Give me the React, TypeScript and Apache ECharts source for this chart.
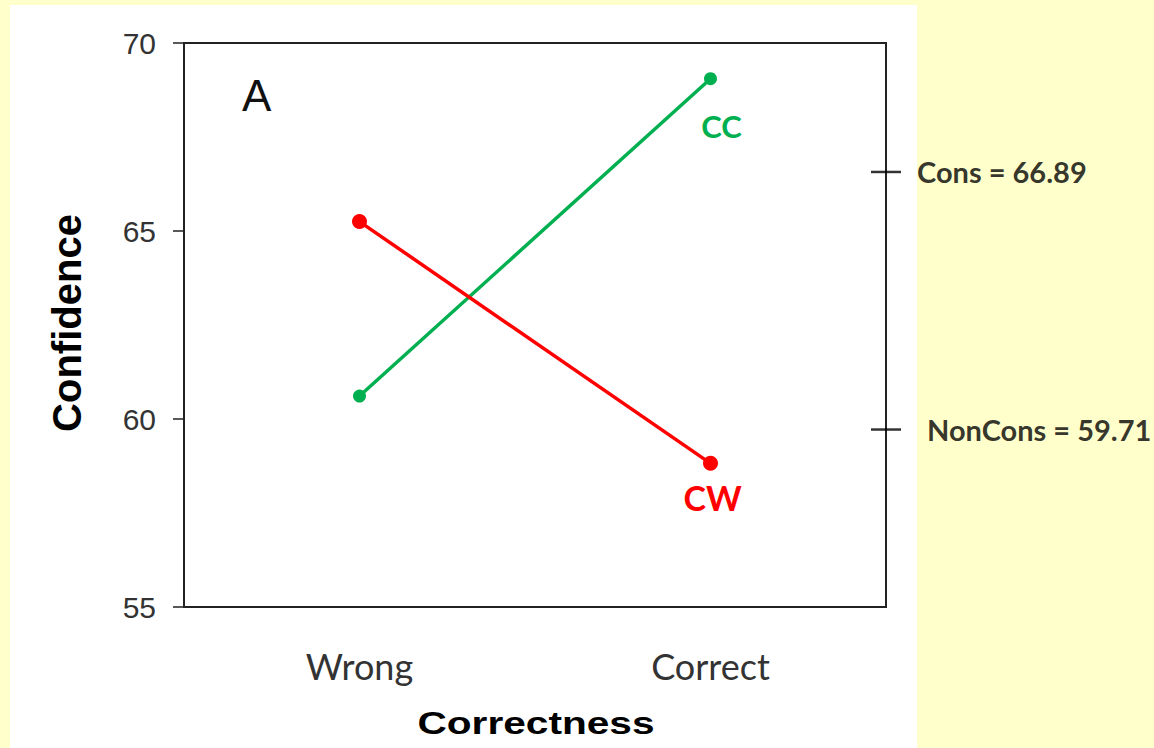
import React, { useEffect, useRef } from "react";
import * as echarts from "echarts";

const categories = ["Wrong", "Correct"];
const ccValues = [60.61, 69.05];
const cwValues = [65.25, 58.82];
const yTicks = { min: 55, max: 70, interval: 5 };
// annotation marks: [drawn position, label]
const annotationPositions = [66.57, 59.72];
const annotationLabels = ["Cons = 66.89", "NonCons = 59.71"];

const GREEN = "#00B050";
const RED = "#FF0000";

export default function App() {
  const ref = useRef<HTMLDivElement>(null);
  useEffect(() => {
    if (!ref.current) return;
    const chart = echarts.init(ref.current, null, { renderer: "svg" });
    const option: any = {
      animation: false,
      backgroundColor: "#FFFFCC",
      grid: {
        left: 184,
        right: 268,
        top: 43,
        bottom: 141,
        show: true,
        borderColor: "#222",
        borderWidth: 2,
        backgroundColor: "transparent",
      },
      graphic: [
        {
          type: "rect",
          z: -10,
          silent: true,
          shape: { x: 10, y: 5, width: 907, height: 760 },
          style: { fill: "#FFFFFF" },
        },
        {
          type: "text",
          x: 242,
          y: 73,
          style: {
            text: "A",
            fontFamily: "Liberation Sans, Arial, sans-serif",
            fontSize: 44,
            fill: "#111",
            textAlign: "left",
            textVerticalAlign: "top",
          },
        },
        {
          type: "text",
          x: 67,
          y: 323,
          rotation: Math.PI / 2,
          style: {
            text: "Confidence",
            fontFamily: "Liberation Sans, Arial, sans-serif",
            fontWeight: "bold",
            fontSize: 40,
            fill: "#000",
            textAlign: "center",
            textVerticalAlign: "middle",
          },
        },
        {
          type: "text",
          x: 536,
          y: 723,
          scaleX: 1.27,
          style: {
            text: "Correctness",
            fontFamily: "Liberation Sans, Arial, sans-serif",
            fontWeight: "bold",
            fontSize: 32,
            fill: "#000",
            textAlign: "center",
            textVerticalAlign: "middle",
          },
        },
      ],
      xAxis: [
        {
          type: "category",
          data: categories,
          boundaryGap: true,
          axisLine: { lineStyle: { color: "#222", width: 2 } },
          axisTick: { alignWithLabel: true, inside: true, length: 12, lineStyle: { color: "#222", width: 1.5 } },
          axisLabel: {
            margin: 41,
            fontFamily: "Lato, Carlito, sans-serif",
            fontSize: 36,
            color: "#333",
          },
          splitLine: { show: false },
        },
        {
          type: "value",
          min: 0,
          max: 1,
          show: false,
        },
      ],
      yAxis: {
        type: "value",
        min: yTicks.min,
        max: yTicks.max,
        interval: yTicks.interval,
        axisLine: { show: true, lineStyle: { color: "#222", width: 2 } },
        axisTick: { show: true, length: 11, lineStyle: { color: "#222", width: 1.5 } },
        axisLabel: {
          margin: 28,
          fontFamily: "Liberation Sans, Arial, sans-serif",
          fontSize: 30,
          color: "#333",
        },
        splitLine: { show: false },
      },
      series: [
        {
          name: "CC",
          type: "line",
          data: ccValues.map((v, i) =>
            i === ccValues.length - 1
              ? {
                  value: v,
                  label: {
                    show: true,
                    formatter: "CC",
                    position: "bottom",
                    offset: [11, 20],
                    fontFamily: "Lato, Carlito, sans-serif",
                    fontWeight: "bold",
                    fontSize: 31,
                    color: GREEN,
                  },
                }
              : v
          ),
          symbol: "circle",
          symbolSize: 13,
          lineStyle: { color: GREEN, width: 3.5 },
          itemStyle: { color: GREEN },
          z: 3,
        },
        {
          name: "CW",
          type: "line",
          data: cwValues.map((v, i) =>
            i === cwValues.length - 1
              ? {
                  value: v,
                  label: {
                    show: true,
                    formatter: "CW",
                    position: "bottom",
                    offset: [2, 5],
                    fontFamily: "Lato, Carlito, sans-serif",
                    fontWeight: "bold",
                    fontSize: 34,
                    color: RED,
                  },
                }
              : v
          ),
          symbol: "circle",
          symbolSize: 15,
          lineStyle: { color: RED, width: 3.5 },
          itemStyle: { color: RED },
          z: 3,
        },
        {
          name: "annotations",
          type: "scatter",
          xAxisIndex: 1,
          clip: false,
          symbol: "rect",
          symbolSize: [30, 2.5],
          itemStyle: { color: "#000" },
          data: annotationPositions.map((p, i) => ({
            value: [1, p],
            label: {
              show: true,
              position: "right",
              distance: i === 0 ? 16 : 26,
              formatter: annotationLabels[i],
              fontFamily: "Lato, Carlito, sans-serif",
              fontWeight: "bold",
              fontSize: 29,
              color: "#000",
            },
          })),
          z: 5,
        },
      ],
    };
    chart.setOption(option);
    return () => chart.dispose();
  }, []);
  return (
    <div
      ref={ref}
      style={{ position: "fixed", left: 0, top: 0, width: 1154, height: 748 }}
    />
  );
}
